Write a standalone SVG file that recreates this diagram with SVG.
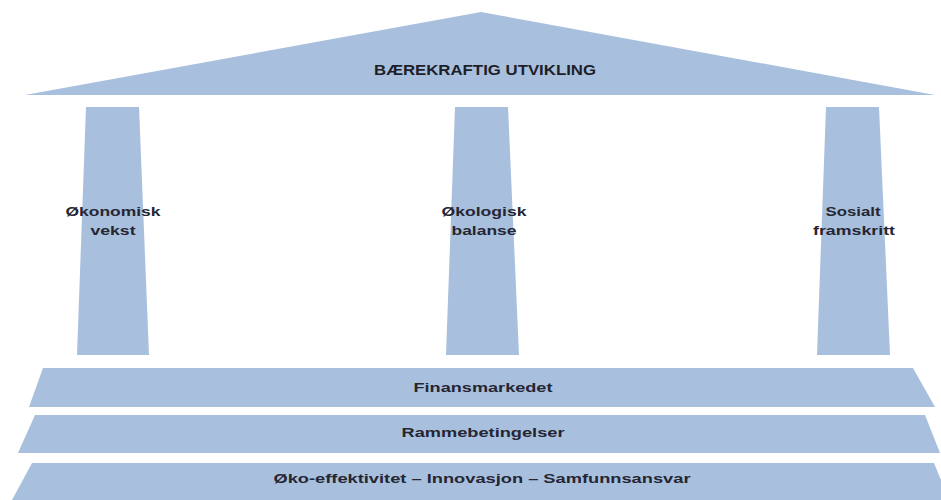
<svg xmlns="http://www.w3.org/2000/svg" width="941" height="500" viewBox="0 0 941 500">
  <style>
    .part { fill: #a8c0de; }
    .lbl { font-family: "Liberation Sans", Arial, sans-serif; font-weight: bold; font-size: 13.5px; fill: #262633; text-anchor: middle; }
    .title { font-size: 14px; fill: #1e1e28; }
  </style>
  <rect width="941" height="500" fill="#ffffff"/>

  <!-- roof -->
  <g id="roof">
    <polygon class="part" points="481,12 935,95 25,95"/>
    <text class="lbl title" x="485" y="75" textLength="222" lengthAdjust="spacingAndGlyphs">BÆREKRAFTIG UTVIKLING</text>
  </g>

  <!-- pillars -->
  <g id="pillar-economic">
    <polygon class="part" points="86,107 139,107 149,355 77,355"/>
    <text class="lbl" x="113" y="216" textLength="95" lengthAdjust="spacingAndGlyphs">Økonomisk</text>
    <text class="lbl" x="113" y="235" textLength="45" lengthAdjust="spacingAndGlyphs">vekst</text>
  </g>
  <g id="pillar-ecological">
    <polygon class="part" points="455,107 508,107 519,355 446,355"/>
    <text class="lbl" x="484" y="216" textLength="85" lengthAdjust="spacingAndGlyphs">Økologisk</text>
    <text class="lbl" x="484" y="235" textLength="65" lengthAdjust="spacingAndGlyphs">balanse</text>
  </g>
  <g id="pillar-social">
    <polygon class="part" points="826,107 879,107 890,355 817,355"/>
    <text class="lbl" x="853" y="216" textLength="55" lengthAdjust="spacingAndGlyphs">Sosialt</text>
    <text class="lbl" x="854" y="235" textLength="82" lengthAdjust="spacingAndGlyphs">framskritt</text>
  </g>

  <!-- foundation steps -->
  <g id="step-finance">
    <polygon class="part" points="43,368 913,368 935,407 29,407"/>
    <text class="lbl" x="483" y="392" textLength="139" lengthAdjust="spacingAndGlyphs">Finansmarkedet</text>
  </g>
  <g id="step-framework">
    <polygon class="part" points="35,415 925,415 940,453 18,453"/>
    <text class="lbl" x="483" y="437" textLength="163" lengthAdjust="spacingAndGlyphs">Rammebetingelser</text>
  </g>
  <g id="step-base">
    <polygon class="part" points="32,463 934,463 941,480 941,500 12,500"/>
    <text class="lbl" x="482" y="483" textLength="417" lengthAdjust="spacingAndGlyphs">Øko-effektivitet – Innovasjon –  Samfunnsansvar</text>
  </g>
</svg>
